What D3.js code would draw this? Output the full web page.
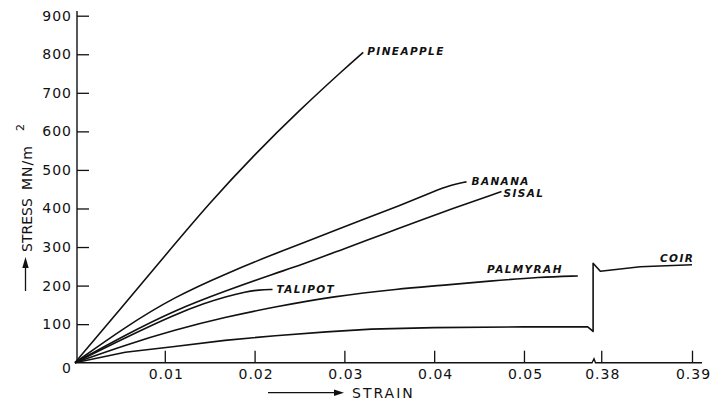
<!DOCTYPE html>
<head>
  <meta charset="utf-8">
  <script src="https://d3js.org/d3.v7.min.js"></script>
  <style>
    body { margin:0; background:#fff; }
    text { font-family: "DejaVu Sans", sans-serif; fill:#111; }
  </style>
</head>
<body>
<script>
// stress-strain curves, [strain, stress MN/m^2]
const pineapple = [[0,0],[0.005,138],[0.01,277],[0.015,415],[0.02,540],[0.025,655],[0.03,762],[0.0321,805]];
const banana = [[0,0],[0.0056,93],[0.0111,171],[0.0169,232],[0.0223,283],[0.025,307],[0.0325,375],[0.0362,408],[0.04,445],[0.042,462],[0.0436,469]];
const sisal = [[0,0],[0.0056,72],[0.0111,136],[0.0167,186],[0.0223,232],[0.025,252],[0.03,296],[0.035,339],[0.04,383],[0.0475,444]];
const talipot = [[0,0],[0.0056,65],[0.0111,125],[0.0145,155],[0.0169,172],[0.019,184],[0.0205,189],[0.022,190]];
const palmyrah = [[0,0],[0.0056,46],[0.0111,85],[0.0167,118],[0.0223,145],[0.0287,172],[0.0362,192],[0.0406,200],[0.0462,212],[0.0518,222],[0.056,225]];
const coir = [[0,0],[0.0056,27],[0.0111,42],[0.0167,58],[0.0223,70],[0.028,80],[0.033,87],[0.04,91],[0.05,93],[0.0571,93],[0.0577,81],[0.0577,258],[0.3799,237],[0.3843,249],[0.39,254]];

const seriesNames = ["PINEAPPLE","BANANA","SISAL","TALIPOT","PALMYRAH","COIR"];
const seriesData = [pineapple, banana, sisal, talipot, palmyrah, coir];

const xTicks = [0.01,0.02,0.03,0.04,0.05,0.38,0.39];
const yTicks = [0,100,200,300,400,500,600,700,800,900];

// where each name sits relative to the curve end
const labelPos = {
  PINEAPPLE: {dx: 4, dy: 3, anchor: "start"},
  BANANA: {dx: 5, dy: 3, anchor: "start"},
  SISAL: {dx: 2, dy: 5, anchor: "start"},
  TALIPOT: {dx: 4, dy: 4, anchor: "start"},
  PALMYRAH: {dx: -15, dy: -3, anchor: "end"},
  COIR: {dx: -32, dy: -3, anchor: "start"}
};

const W = 715, H = 405;
const svg = d3.select("body").append("svg").attr("width", W).attr("height", H);

// broken strain axis: 0..0.058 then 0.3794..0.39
const x = d3.scaleLinear()
  .domain([0, 0.058, 0.3794, 0.39])
  .range([75, 595.8, 595.8, 692]);
const y = d3.scaleLinear().domain([0, 900]).range([362.7, 15.7]);

// axes
const yAxis = svg.append("g").attr("transform", "translate(77,0)")
  .call(d3.axisLeft(y).tickValues(yTicks).tickSizeInner(-12).tickSizeOuter(0).tickPadding(5).tickFormat(d3.format("d")));
yAxis.select(".domain").remove();
yAxis.selectAll(".tick line").attr("stroke", "#111").attr("stroke-width", 1.3).filter(d => d === 0).remove();
yAxis.selectAll(".tick text").attr("font-size", 14).attr("letter-spacing", 1).attr("fill", "#111")
  .style("font-family", "DejaVu Sans").filter(d => d === 0).attr("dy", "0.7em");
svg.append("line").attr("x1", 77).attr("x2", 77).attr("y1", y(0)).attr("y2", 11)
  .attr("stroke", "#111").attr("stroke-width", 1.4);

const xAxis = svg.append("g").attr("transform", `translate(0,${y(0)})`)
  .call(d3.axisBottom(x).tickValues(xTicks).tickSizeInner(-12).tickSizeOuter(0).tickPadding(6).tickFormat(d3.format(".2f")));
xAxis.select(".domain").remove();
xAxis.selectAll(".tick line").attr("stroke", "#111").attr("stroke-width", 1.3);
xAxis.selectAll(".tick text").attr("font-size", 14).attr("letter-spacing", 1).attr("fill", "#111")
  .attr("dx", 1).style("font-family", "DejaVu Sans");
const y0 = y(0);
svg.append("path")
  .attr("d", `M75,${y0}H592l2,-4l1.5,4H702`)
  .attr("fill", "none").attr("stroke", "#111").attr("stroke-width", 1.4);

// axis titles
svg.append("line").attr("x1", 268).attr("x2", 336).attr("y1", 392.7).attr("y2", 392.7)
  .attr("stroke", "#111").attr("stroke-width", 1.3);
svg.append("path").attr("d", "M344,392.7L334,389.5L334,395.9Z").attr("fill", "#111");
svg.append("text").attr("x", 352).attr("y", 398).attr("font-size", 14).attr("letter-spacing", 2).text("STRAIN");

svg.append("line").attr("x1", 25.5).attr("x2", 25.5).attr("y1", 291).attr("y2", 266)
  .attr("stroke", "#111").attr("stroke-width", 1.3);
svg.append("path").attr("d", "M25.5,257L22.3,268L28.7,268Z").attr("fill", "#111");
svg.append("text").attr("transform", "translate(31.5,252) rotate(-90)").attr("font-size", 14).text("STRESS");
svg.append("text").attr("transform", "translate(31.5,190) rotate(-90)").attr("font-size", 14).attr("letter-spacing", 1).text("MN/m");
svg.append("text").attr("transform", "translate(23.5,131) rotate(-90)").attr("font-size", 11).text("2");

// curves
const smooth = d3.line().x(d => x(d[0])).y(d => y(d[1])).curve(d3.curveBasis);
const straight = d3.line().x(d => x(d[0])).y(d => y(d[1]));
svg.selectAll("path.curve").data(seriesData).enter().append("path")
  .attr("class", "curve")
  .attr("d", (d, i) => seriesNames[i] === "COIR" ? straight(d) : smooth(d))
  .attr("fill", "none").attr("stroke", "#111").attr("stroke-width", 1.6)
  .attr("stroke-linejoin", "round");

svg.selectAll("text.name").data(seriesNames).enter().append("text")
  .attr("class", "name")
  .attr("x", (n, i) => x(seriesData[i][seriesData[i].length - 1][0]) + labelPos[n].dx)
  .attr("y", (n, i) => y(seriesData[i][seriesData[i].length - 1][1]) + labelPos[n].dy)
  .attr("text-anchor", n => labelPos[n].anchor)
  .attr("font-size", 10.5).attr("font-style", "italic").attr("font-weight", "bold")
  .attr("letter-spacing", 1.4)
  .text(n => n);
</script>
</body>
